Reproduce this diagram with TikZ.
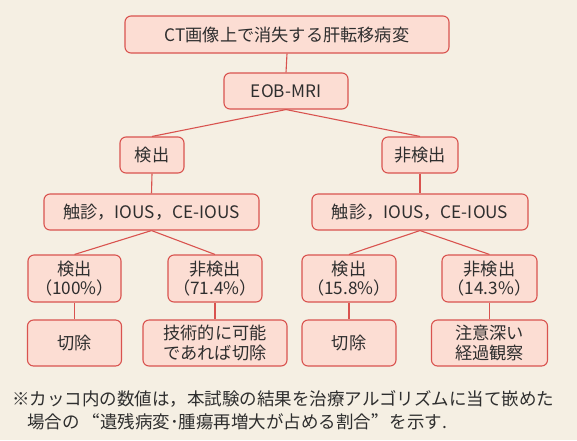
\documentclass[tikz,border=0pt]{standalone}
\usepackage{fontspec}
\setmainfont{Noto Sans CJK JP}
\definecolor{bg}{HTML}{F5EFE3}
\definecolor{boxfill}{HTML}{FCDDD3}
\definecolor{boxline}{HTML}{D9534F}
\definecolor{txt}{HTML}{2E2E2E}
\newcommand{\fwq}[1]{{\addfontfeature{CharacterWidth=Full}#1}}
\tikzset{
  fbox/.style={draw=boxline, fill=boxfill, line width=1.1pt, rounded corners=6pt,
    inner sep=0pt, align=center, text=txt,
    font=\fontsize{17.2}{19.5}\selectfont},
  conn/.style={draw=boxline, line width=1.1pt},
  note/.style={anchor=west, inner sep=0pt, text=txt, font=\fontsize{17.5}{20}\selectfont}
}
\begin{document}
\begin{tikzpicture}[x=1pt,y=-1pt]
\fill[bg] (0,0) rectangle (577,440);
\useasboundingbox (0,0) rectangle (577,440);
\node[fbox, minimum width=324pt, minimum height=37pt] (top) at (287,34.5) {CT画像上で消失する肝転移病変};
\node[fbox, minimum width=124pt, minimum height=36pt] (eob) at (286,91) {EOB-MRI};
\node[fbox, minimum width=64pt, minimum height=36pt] (det) at (152,155) {検出};
\node[fbox, minimum width=76pt, minimum height=36pt] (ndet) at (420,155) {非検出};
\node[fbox, minimum width=215pt, minimum height=36pt] (p1) at (151.5,212) {触診，IOUS，CE-IOUS};
\node[fbox, minimum width=216pt, minimum height=36pt] (p2) at (420,212) {触診，IOUS，CE-IOUS};
\node[fbox, minimum width=93pt, minimum height=47pt] (a1) at (74.5,278.5) {検出\\（100\%）};
\node[fbox, minimum width=94pt, minimum height=47pt] (a2) at (215,278.5) {非検出\\（71.4\%）};
\node[fbox, minimum width=94pt, minimum height=47pt] (a3) at (349,278.5) {検出\\（15.8\%）};
\node[fbox, minimum width=95pt, minimum height=47pt] (a4) at (489.5,278.5) {非検出\\（14.3\%）};
\node[fbox, minimum width=94pt, minimum height=46pt] (b1) at (74.5,343) {切除};
\node[fbox, minimum width=144pt, minimum height=46pt] (b2) at (215,343) {技術的に可能\\であれば切除};
\node[fbox, minimum width=94pt, minimum height=46pt] (b3) at (349,343) {切除};
\node[fbox, minimum width=116pt, minimum height=46pt] (b4) at (489.5,343) {注意深い\\経過観察};
\draw[conn] (top.south) -- (eob.north);
\draw[conn] (eob.south) -- (det.north);
\draw[conn] (eob.south) -- (ndet.north);
\draw[conn] (det.south) -- (p1.north);
\draw[conn] (ndet.south) -- (p2.north);
\draw[conn] (p1.south) -- (a1.north);
\draw[conn] (p1.south) -- (a2.north);
\draw[conn] (p2.south) -- (a3.north);
\draw[conn] (p2.south) -- (a4.north);
\draw[conn] (a1.south) -- (b1.north);
\draw[conn] (a2.south) -- (b2.north);
\draw[conn] (a3.south) -- (b3.north);
\draw[conn] (a4.south) -- (b4.north);
\node[note] (n1) at (12,399) {※カッコ内の数値は，本試験の結果を治療アルゴリズムに当て嵌めた};
\node[note] (n2) at (27,422) {場合の\hspace{3pt}\fwq{“}遺残病変･腫瘍再増大が占める割合\fwq{”}\hspace{1pt}を示す.};
\end{tikzpicture}
\end{document}
